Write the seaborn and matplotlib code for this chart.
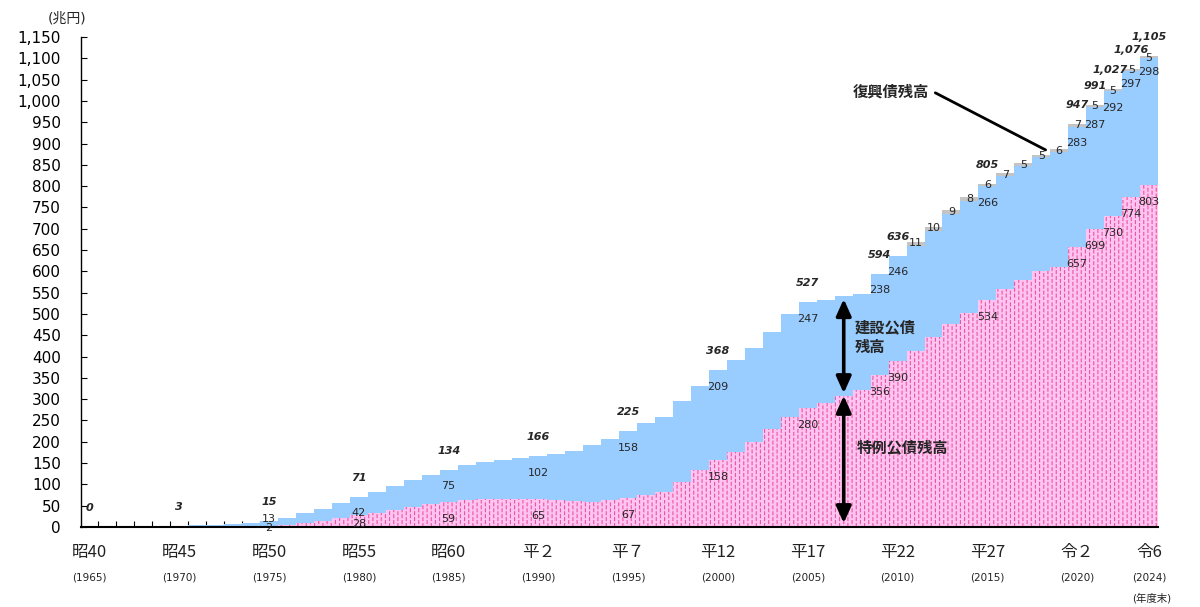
import numpy as np
import pandas as pd
import matplotlib
matplotlib.use("Agg")
import matplotlib.pyplot as plt
import matplotlib.hatch as mhatch
import matplotlib.transforms as mtrans
from matplotlib.path import Path
from matplotlib.ticker import FuncFormatter
import seaborn as sns

# ---------------- data (兆円, 年度末) ----------------
years = list(range(1965, 2025))
tokurei = [  # 特例公債残高
    0, 0, 0, 0, 0, 0, 0, 0, 0, 0,
    2.1, 5.6, 10.1, 14.4, 20.7, 28.2, 32.5, 40.0, 46.5, 53.0,
    59.0, 63.0, 65.0, 65.0, 65.5, 64.6, 64.0, 62.0, 59.5, 63.0,
    67.0, 75.0, 82.0, 106.0, 134.0, 158.3, 175.0, 199.0, 229.0, 257.0,
    280.0, 290.0, 307.0, 321.0, 356.0, 390.0, 412.0, 446.0, 477.0, 503.0,
    533.9, 558.0, 579.0, 600.0, 610.0, 657.0, 699.0, 730.0, 774.0, 802.6,
]
kensetsu = [  # 建設公債残高
    0.2, 0.9, 1.6, 2.2, 2.6, 2.8, 3.9, 5.8, 7.5, 9.7,
    12.9, 16.5, 21.9, 28.2, 35.6, 42.4, 49.8, 56.5, 63.2, 68.7,
    75.4, 82.1, 86.8, 91.8, 95.4, 101.7, 107.6, 116.4, 133.0, 143.6,
    158.2, 169.7, 176.0, 189.2, 197.7, 209.3, 217.4, 222.1, 227.7, 242.0,
    246.9, 241.7, 234.5, 224.9, 238.0, 246.3, 247.2, 248.7, 257.9, 262.8,
    265.6, 265.9, 268.8, 268.6, 271.0, 282.7, 287.2, 292.1, 297.1, 297.6,
]
fukko = [  # 復興債残高
    0] * 46 + [10.7, 10.3, 9.0, 8.3, 5.9, 6.7, 5.4, 5.4, 5.7, 6.9, 5.2, 5.0, 4.9, 4.9]

total_label_years = [1965, 1970, 1975, 1980, 1985, 1990, 1995, 2000, 2005,
                     2009, 2010, 2015, 2020, 2021, 2022, 2023, 2024]
part_label_years = [1975, 1980, 1985, 1990, 1995, 2000, 2005,
                    2009, 2010, 2015, 2020, 2021, 2022, 2023, 2024]
fukko_label_years = list(range(2011, 2025))

tick_years = [1965, 1970, 1975, 1980, 1985, 1990, 1995, 2000, 2005, 2010, 2015, 2020, 2024]
era_labels = ["昭40", "昭45", "昭50", "昭55", "昭60", "平２", "平７", "平12", "平17",
              "平22", "平27", "令２", "令6"]
year_labels = ["(1965)", "(1970)", "(1975)", "(1980)", "(1985)", "(1990)", "(1995)",
               "(2000)", "(2005)", "(2010)", "(2015)", "(2020)", "(2024)"]

# ---------------- style ----------------
PINK = "#ffc4f1"
DASH = "#e8559f"
BLUE = "#99ccff"
GRAY = "#c4c4c4"
CJK = ["Noto Sans CJK JP", "DejaVu Sans"]
LATIN_CJK = ["DejaVu Sans", "Noto Sans CJK JP"]

sns.set_theme(style="ticks")
plt.rcParams["font.family"] = LATIN_CJK
plt.rcParams["hatch.linewidth"] = 0.8


# dashed vertical hatch pattern (replaces the plain '|' pattern)
class DashedVerticalHatch(mhatch.HatchPatternBase):
    def __init__(self, hatch, density):
        self.ncol = (hatch.count("|") + hatch.count("+")) * density
        self.nrow = int(round(self.ncol * 0.7))
        self.num_vertices = self.ncol * self.nrow * 2

    def set_vertices_and_codes(self, vertices, codes):
        k = 0
        for i in range(self.ncol):
            x = (i + 0.5) / self.ncol
            off = 0.5 if i % 2 else 0.0
            for j in range(self.nrow):
                y0 = (j + off) / self.nrow
                y1 = y0 + 0.5 / self.nrow
                vertices[k] = (x, y0)
                vertices[k + 1] = (x, y1)
                codes[k] = Path.MOVETO
                codes[k + 1] = Path.LINETO
                k += 2


try:
    mhatch._hatch_types = [DashedVerticalHatch if t is mhatch.VerticalHatch else t
                           for t in mhatch._hatch_types]
except Exception:
    pass

df = pd.DataFrame({"year": [str(y) for y in years],
                   "tokurei": tokurei, "kensetsu": kensetsu, "fukko": fukko})
df["pk"] = df["tokurei"] + df["kensetsu"]
df["total"] = df["pk"] + df["fukko"]

fig = plt.figure(figsize=(12, 6.07), dpi=100)
ax = fig.add_axes([80.5 / 1200, 80 / 607, (1158 - 80.5) / 1200, 490 / 607])

common = dict(width=1.0, saturation=1, errorbar=None, linewidth=0, ax=ax)
sns.barplot(data=df, x="year", y="total", color=GRAY, **common)
sns.barplot(data=df, x="year", y="pk", color=BLUE, **common)
sns.barplot(data=df, x="year", y="tokurei", color=PINK, **common)
for bar in ax.containers[2]:
    bar.set_hatch("||||")
    bar.set_edgecolor(DASH)
    bar.set_linewidth(0)

ax.set_xlim(-0.5, len(years) - 0.5)
ax.set_ylim(0, 1150)
ax.set_yticks(np.arange(0, 1151, 50))
ax.yaxis.set_major_formatter(FuncFormatter(lambda v, p: f"{v:,.0f}"))
ax.set_xlabel("")
ax.set_ylabel("")
ax.set_xticks([])
ax.set_xticks(np.arange(0.5, len(years) - 1, 1), minor=True)
ax.tick_params(axis="x", which="minor", direction="in", length=4.3, width=0.8, color="black")
ax.tick_params(axis="y", direction="in", length=4, width=0.8, color="black",
               pad=14, labelsize=11, labelcolor="black")
for s in ("top", "right"):
    ax.spines[s].set_visible(False)
ax.spines["left"].set_linewidth(1.0)
ax.spines["left"].set_color("black")
ax.spines["bottom"].set_linewidth(1.5)
ax.spines["bottom"].set_color("black")

# x labels (era + western year)
bt = mtrans.blended_transform_factory(ax.transData, ax.transAxes)
for yr, era, wl in zip(tick_years, era_labels, year_labels):
    i = years.index(yr)
    ax.text(i, -0.053, era, transform=bt, ha="center", va="center", fontsize=12,
            family=CJK, color="#222222")
    ax.text(i, -0.104, wl, transform=bt, ha="center", va="center", fontsize=7.5,
            color="#222222")
ax.text(years.index(2024) + 0.15, -0.145, "(年度末)", transform=bt, ha="center",
        va="center", fontsize=7.5, family=LATIN_CJK, color="#222222")
fig.text(66.7 / 1200, 1 - 18.3 / 607, "(兆円)", ha="center", va="center",
         fontsize=10, family=LATIN_CJK)

PT = 0.72  # points per pixel at 100 dpi


def lab(i, y, txt, dy_px, dx_px=0, **kw):
    ax.annotate(txt, xy=(i, y), xytext=(dx_px * PT, dy_px * PT), textcoords="offset points",
                ha="center", va="center", fontsize=8, zorder=5, **kw)


total_dx = {2022: -3}
for yr in total_label_years:
    i = years.index(yr)
    lab(i, df["total"][i], f"{df['total'][i]:,.0f}", 19, total_dx.get(yr, 0),
        fontweight="bold", fontstyle="italic")

blue_off = {1975: 2, 2021: -18, 2023: -13, 2024: -13.5}
pink_off = {1975: -2.3, 1980: -9}
for yr in part_label_years:
    i = years.index(yr)
    lab(i, df["pk"][i], f"{df['kensetsu'][i]:.0f}", blue_off.get(yr, -16.5))
    lab(i, df["tokurei"][i], f"{df['tokurei'][i]:.0f}", pink_off.get(yr, -17))
for yr in fukko_label_years:
    i = years.index(yr)
    lab(i, df["total"][i], f"{df['fukko'][i]:.0f}", -1.5, 1 if yr == 2023 else 0)

# annotations
arrow_kw = dict(arrowstyle="<|-|>,head_width=0.45,head_length=1.0", lw=2.6,
                color="black", shrinkA=0, shrinkB=0, mutation_scale=10)
ax.annotate("", xy=(42, 535), xytext=(42, 314), arrowprops=arrow_kw)
ax.annotate("", xy=(42, 308), xytext=(42, 9), arrowprops=arrow_kw)
ax.text(42.62, 446, "建設公債\n残高", ha="left", va="center", fontsize=11,
        fontweight="bold", family=CJK, linespacing=1.3, zorder=6)
ax.text(42.74, 188, "特例公債残高", ha="left", va="center", fontsize=11,
        fontweight="bold", family=CJK, zorder=6)
ax.text(42.5, 1021, "復興債残高", ha="left", va="center", fontsize=11,
        fontweight="bold", family=CJK, zorder=6)
ax.plot([47.1, 53.24], [1019, 885], color="black", lw=2, zorder=6)

fig.savefig("out.png", dpi=100)
